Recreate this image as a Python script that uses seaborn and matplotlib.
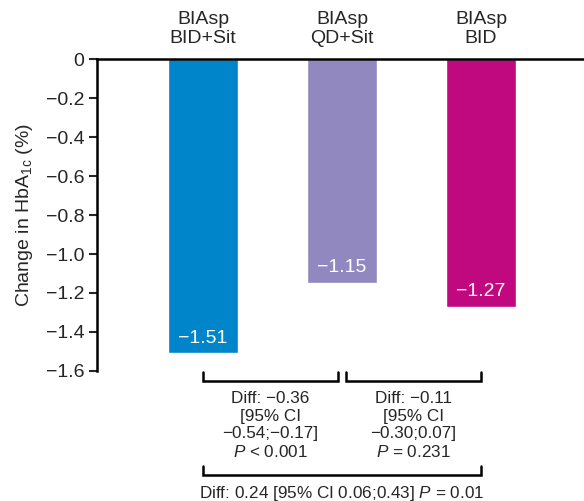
import matplotlib
matplotlib.use("Agg")
import matplotlib.pyplot as plt
import seaborn as sns

# data
groups = ["BIAsp\nBID+Sit", "BIAsp\nQD+Sit", "BIAsp\nBID"]
changes = [-1.51, -1.15, -1.27]
value_labels = ["\u22121.51", "\u22121.15", "\u22121.27"]
colors = ["#0085CA", "#9188C0", "#C0087F"]
yticks = [0, -0.2, -0.4, -0.6, -0.8, -1.0, -1.2, -1.4, -1.6]
ytick_labels = ["0", "\u22120.2", "\u22120.4", "\u22120.6", "\u22120.8",
                "\u22121.0", "\u22121.2", "\u22121.4", "\u22121.6"]
diff_left = "Diff: \u22120.36\n[95% CI\n\u22120.54;\u22120.17]\n$P$ < 0.001"
diff_right = "Diff: \u22120.11\n[95% CI\n\u22120.30;0.07]\n$P$ = 0.231"
diff_all = "Diff: 0.24 [95% CI 0.06;0.43] $P$ = 0.01"

sns.set_style("white")
plt.rcParams["font.family"] = ["Liberation Sans", "DejaVu Sans"]
plt.rcParams["mathtext.fontset"] = "custom"
plt.rcParams["mathtext.rm"] = "Liberation Sans"
plt.rcParams["mathtext.it"] = "Liberation Sans:italic"

fig = plt.figure(figsize=(5.84, 5.01), dpi=100)
ax = fig.add_axes([0.166, 0.2595, 0.834, 0.6227])

sns.barplot(x=groups, y=changes, hue=groups, palette=colors, legend=False,
            width=0.5, saturation=1, ax=ax)

ax.set_xlim(-0.763, 2.741)
ax.set_ylim(-1.6, 0)
ax.set_yticks(yticks)
ax.set_yticklabels(ytick_labels, fontsize=14)
ax.set_ylabel("Change in HbA$_{\\mathrm{1c}}$ (%)", fontsize=14, labelpad=8)

# categories on top
ax.xaxis.tick_top()
ax.tick_params(axis="x", length=0, pad=9, labelsize=14)
ax.tick_params(axis="y", length=6, width=1.5, direction="out", left=True, pad=3)
for lbl in ax.get_xticklabels():
    lbl.set_linespacing(1.15)

for s in ["right", "bottom"]:
    ax.spines[s].set_visible(False)
ax.spines["left"].set_linewidth(1.8)
ax.spines["top"].set_linewidth(1.8)
ax.spines["left"].set_color("black")
ax.spines["top"].set_color("black")

# value labels inside bars
for i, (v, t) in enumerate(zip(changes, value_labels)):
    ax.annotate(t, (i, v), xytext=(0, 11), textcoords="offset points",
                ha="center", va="center", color="white", fontsize=14)

# comparison brackets
def bracket(x0, x1, ytop, ybot):
    ax.plot([x0, x0, x1, x1], [ytop, ybot, ybot, ytop], color="black",
            lw=1.8, clip_on=False, solid_joinstyle="miter")

bracket(0, 0.97, -1.605, -1.651)
bracket(1.03, 2.0, -1.605, -1.651)
bracket(0, 2.0, -2.087, -2.133)

ax.text(0.485, -1.88, diff_left, ha="center", va="center", fontsize=12.3,
        linespacing=1.2, clip_on=False)
ax.text(1.515, -1.88, diff_right, ha="center", va="center", fontsize=12.3,
        linespacing=1.2, clip_on=False)
ax.text(1.0, -2.226, diff_all, ha="center", va="center", fontsize=12.3,
        clip_on=False)

fig.savefig("out.png", dpi=100)
